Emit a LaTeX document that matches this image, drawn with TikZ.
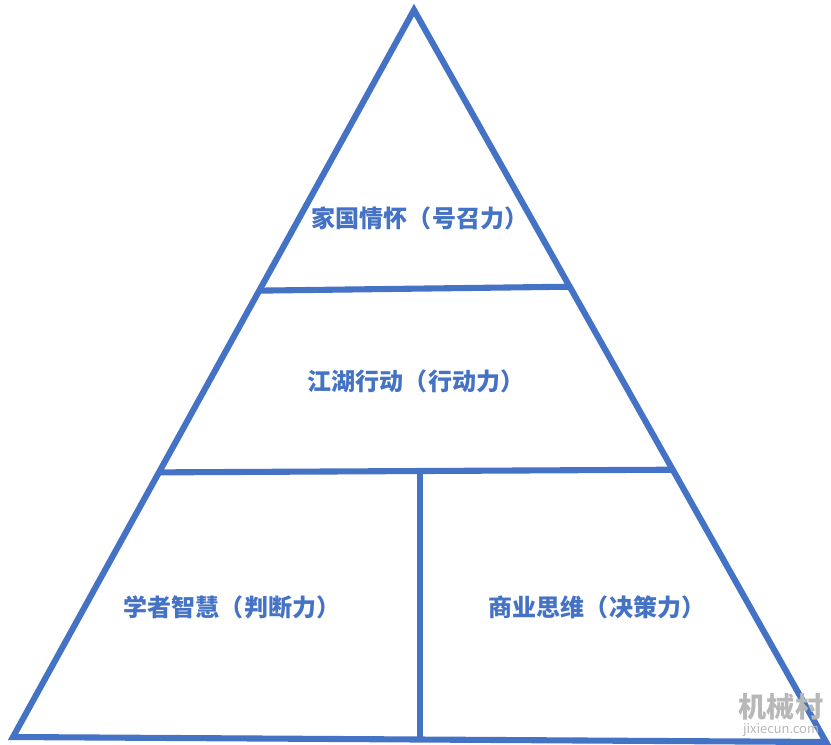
\documentclass[tikz,border=0pt]{standalone}
\usepackage{fontspec}
\newfontfamily\cjk{Noto Sans CJK SC}
\usetikzlibrary{calc, positioning}
\definecolor{pyrblue}{HTML}{4472C4}
\begin{document}
\begin{tikzpicture}[x = 0.3mm, y = -0.3mm,
        edge/.style = {draw = pyrblue, line width = 5.2pt, line join = miter},
        lbl/.style = {text = pyrblue, font = \cjk\bfseries\fontsize{20.5}{22}\selectfont}]
        \useasboundingbox (0, 0) rectangle (831, 744);
        \coordinate (apex) at (414, 10);
        \coordinate (bl) at (13, 737);
        \coordinate (br) at (826, 742);
        \draw[edge] (bl) -- (apex) -- (br) -- cycle;
        % dividing lines
        \coordinate (t1) at ($(apex)!0.386!(bl)$);
        \coordinate (t2) at ($(apex)!0.378!(br)$);
        \coordinate (m1) at ($(apex)!0.636!(bl)$);
        \coordinate (m2) at ($(apex)!0.628!(br)$);
        \draw[edge] (t1) -- (t2);
        \draw[edge] (m1) -- (m2);
        \coordinate (v1) at (420, 471);
        \coordinate (v2) at (420, 738);
        \draw[edge] (v1) -- (v2);
        % layer labels
        \node[lbl] (top) at (420, 218) {家国情怀（号召力）};
        \node[lbl] (mid) at (416, 381) {江湖行动（行动力）};
        \node[lbl] (left) at (232, 607) {学者智慧（判断力）};
        \node[lbl] (right) at (597, 607) {商业思维（决策力）};
        % watermark
        \node[text = black!28, font = \cjk\bfseries\fontsize{24}{26}\selectfont] (wm) at (781, 707) {机械村};
        \node[text = black!28, font = \cjk\fontsize{11}{12}\selectfont, below = -4pt of wm] (url) {jixiecun.com};
    \end{tikzpicture}
\end{document}
